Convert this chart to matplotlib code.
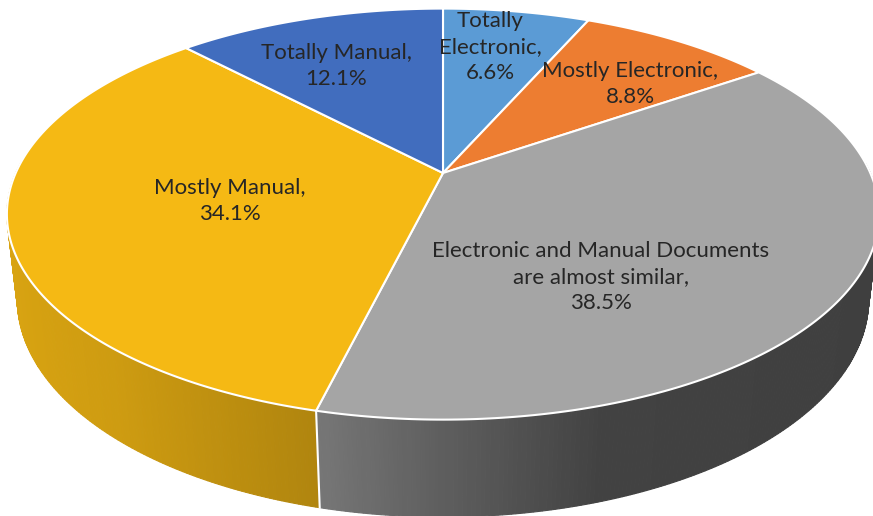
import matplotlib.pyplot as plt
import numpy as np
from matplotlib.colors import to_rgb
from matplotlib.patches import Polygon

# wedges clockwise from 12 o'clock
categories = [
    "Totally\nElectronic,",
    "Mostly Electronic,",
    "Electronic and Manual Documents\nare almost similar,",
    "Mostly Manual,",
    "Totally Manual,",
]
shares = [6.6, 8.8, 38.5, 34.1, 12.1]
colors = ["#5B9BD5", "#ED7D31", "#A5A5A5", "#F5B914", "#416DBE"]
label_xy = [(490, 47), (630, 84), (601, 277), (230, 201), (336, 66)]

# simple perspective camera for the pie disc, pixel units
CX, CY = 443, 173
FOCAL = 1895.0
ELEV = np.radians(27.5)
DIST = 4.435
HEIGHT = 0.227


def project(theta, r=1.0, z=0.0):
    u = r * np.sin(theta)
    v = -r * np.cos(theta)
    depth = DIST - v * np.cos(ELEV) - z * np.sin(ELEV)
    x = CX + FOCAL * u / depth
    y = CY + FOCAL * (v * np.sin(ELEV) - z * np.cos(ELEV)) / depth
    return x, y


def shade(theta):
    u = np.sin(theta)
    return np.interp(u, [-1, -0.65, -0.24, 0.0, 0.3, 1.0],
                     [0.89, 0.84, 0.72, 0.57, 0.40, 0.38])


fig = plt.figure(figsize=(8.73, 5.16), dpi=100)
ax = fig.add_axes([0, 0, 1, 1])
ax.set_xlim(0, 873)
ax.set_ylim(516, 0)
ax.axis("off")

fracs = np.array(shares) / sum(shares)
edges = np.concatenate([[0], np.cumsum(fracs)]) * 2 * np.pi

# side wall, front half only, painted back to front
quads = []
step = np.radians(0.5)
for i in range(len(shares)):
    a, b = max(edges[i], np.pi / 2 - 0.05), min(edges[i + 1], 3 * np.pi / 2 + 0.05)
    if b <= a:
        continue
    n = max(int(np.ceil((b - a) / step)), 1)
    ts = np.linspace(a, b, n + 1)
    base = np.array(to_rgb(colors[i]))
    for t0, t1 in zip(ts[:-1], ts[1:]):
        xt0, yt0 = project(t0)
        xt1, yt1 = project(t1)
        xb1, yb1 = project(t1, z=-HEIGHT)
        xb0, yb0 = project(t0, z=-HEIGHT)
        c = np.clip(base * shade((t0 + t1) / 2), 0, 1)
        vmid = -np.cos((t0 + t1) / 2)
        quads.append((vmid, [(xt0, yt0), (xt1, yt1), (xb1, yb1), (xb0, yb0)], c))

for _, pts, c in sorted(quads, key=lambda q: q[0]):
    ax.add_patch(Polygon(pts, closed=True, facecolor=c, edgecolor=c, lw=0.8))

# white seams on the wall where wedges meet
for t in edges[1:-1]:
    if np.cos(t) < 0:
        x0, y0 = project(t)
        x1, y1 = project(t, z=-HEIGHT)
        ax.plot([x0, x1], [y0, y1], color="white", lw=1.5)

# top face
for i in range(len(shares)):
    ts = np.linspace(edges[i], edges[i + 1], 200)
    xs, ys = project(ts)
    pts = [(CX, CY)] + list(zip(xs, ys))
    ax.add_patch(Polygon(pts, closed=True, facecolor=colors[i],
                         edgecolor="white", lw=1.5, joinstyle="round"))

for name, share, (lx, ly) in zip(categories, shares, label_xy):
    ax.text(lx, ly, f"{name}\n{share:.1f}%", ha="center", va="center",
            fontsize=16, family="Lato", color="#262626", linespacing=1.4)

fig.savefig("out.png", dpi=100)
